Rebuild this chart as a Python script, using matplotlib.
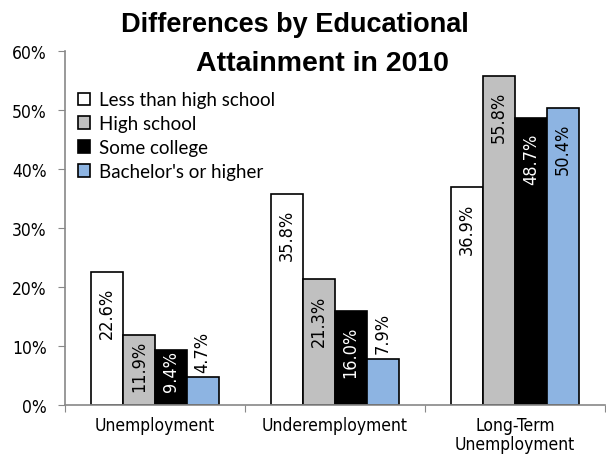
import numpy as np
import matplotlib.pyplot as plt
from matplotlib.patches import Patch

categories = ["Unemployment", "Underemployment", "Long-Term\nUnemployment"]
levels = ["Less than high school", "High school", "Some college", "Bachelor's or higher"]
less_hs = [22.6, 35.8, 36.9]
high_school = [11.9, 21.3, 55.8]
some_college = [9.4, 16.0, 48.7]
bachelors = [4.7, 7.9, 50.4]

series = [less_hs, high_school, some_college, bachelors]
colors = ["white", "#c0c0c0", "black", "#8db4e2"]
text_colors = ["black", "black", "white", "black"]

narrow = dict(family="DejaVu Sans", stretch="condensed")

fig = plt.figure(figsize=(6.06, 4.6), dpi=100)
ax = fig.add_axes([0.107, 0.117, 0.891, 0.77])

x = np.arange(len(categories))
w = 0.177
for i, (vals, c, tc) in enumerate(zip(series, colors, text_colors)):
    pos = x + (i - 1.5) * w
    ax.bar(pos, vals, width=w, color=c, edgecolor="black", linewidth=1.2, zorder=2)
    for p, v in zip(pos, vals):
        lbl = f"{v:.1f}%"
        kw = dict(textcoords="offset points", rotation=90, ha="center",
                  fontsize=13, **narrow)
        if v < 8:
            # too short to hold the label: put it above the bar
            ax.annotate(lbl, (p, v), xytext=(0, 4), va="bottom", color="black", **kw)
        elif v < 13:
            # short bar: keep the label inside, lifted off the baseline
            ax.annotate(lbl, (p, 0), xytext=(0, 10), va="bottom", color=tc, **kw)
        else:
            ax.annotate(lbl, (p, v), xytext=(0, -11), va="top", color=tc, **kw)

ax.set_xlim(-0.5, 2.5)
ax.set_ylim(0, 60)
ax.set_yticks(range(0, 61, 10))
ax.set_yticklabels([f"{t}%" for t in range(0, 61, 10)], fontsize=12.5, **narrow)
ax.set_xticks([-0.5, 0.5, 1.5, 2.5])
ax.set_xticklabels([])
ax.set_xticks(x, minor=True)
ax.set_xticklabels(categories, minor=True, fontsize=12.5, linespacing=1.05, **narrow)
ax.tick_params(axis="x", which="minor", length=0, pad=8)
ax.tick_params(axis="x", which="major", length=5, color="#888888")
ax.tick_params(axis="y", length=5, color="#888888", pad=8)

for s in ["top", "right"]:
    ax.spines[s].set_visible(False)
for s in ["left", "bottom"]:
    ax.spines[s].set_color("#888888")
    ax.spines[s].set_linewidth(1.2)

handles = [Patch(facecolor=c, edgecolor="black", linewidth=1.2) for c in colors]
ax.legend(handles, levels, loc="upper left", bbox_to_anchor=(0.0, 0.923),
          frameon=False, prop={"family": "Lato", "size": 13.5},
          handlelength=0.65, handleheight=0.65, handletextpad=0.45,
          labelspacing=0.37, borderaxespad=0.3)

fig.text(295 / 606, 1 - 32 / 460, "Differences by Educational",
         ha="center", va="baseline", fontsize=19.5, fontweight="bold",
         family="Liberation Sans")
fig.text(322 / 606, 1 - 71 / 460, "Attainment in 2010",
         ha="center", va="baseline", fontsize=20.5, fontweight="bold",
         family="Liberation Sans")

fig.savefig("out.png", dpi=100)
